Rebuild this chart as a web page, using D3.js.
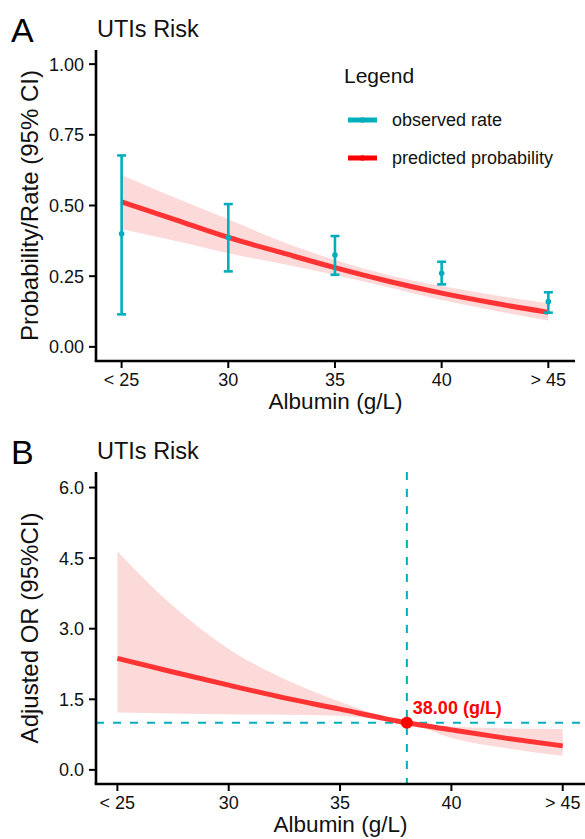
<!DOCTYPE html>
<html>
<head>
<meta charset="utf-8">
<script src="https://cdn.jsdelivr.net/npm/d3@7"></script>
<style>
  body { margin: 0; background: #fff; }
  text { font-family: "Liberation Sans", Arial, sans-serif; }
</style>
</head>
<body>
<div id="chart"></div>
<script>
// x axis (shared)
const albuminTicks = [25, 30, 35, 40, 45];
const albuminTickLabels = ["< 25", "30", "35", "40", "> 45"];

// panel A: observed rates with 95% CI
const obsAlbumin = [25, 30, 35, 40, 45];
const obsRate = [0.400, 0.387, 0.325, 0.260, 0.160];
const obsLower = [0.115, 0.267, 0.255, 0.221, 0.121];
const obsUpper = [0.677, 0.505, 0.392, 0.301, 0.193];

// panel A: predicted probability curve
const probAlbumin = [25, 27.5, 30, 32.5, 35, 37.5, 40, 42.5, 45];
const probFit = [0.513, 0.450, 0.387, 0.333, 0.280, 0.232, 0.190, 0.154, 0.122];
const probLower = [0.417, 0.375, 0.331, 0.294, 0.254, 0.211, 0.166, 0.128, 0.093];
const probUpper = [0.608, 0.527, 0.451, 0.373, 0.307, 0.254, 0.215, 0.183, 0.154];
const probTicks = [0, 0.25, 0.5, 0.75, 1];

// panel B: adjusted OR curve
const orAlbumin = [25, 27.5, 30, 32.5, 35, 37, 38, 40, 42.5, 45];
const orFit = [2.37, 2.08, 1.80, 1.53, 1.29, 1.09, 1.00, 0.85, 0.67, 0.51];
const orLower = [1.22, 1.20, 1.18, 1.17, 1.15, 1.06, 1.00, 0.68, 0.46, 0.30];
const orUpper = [4.64, 3.48, 2.57, 1.93, 1.45, 1.13, 1.00, 0.92, 0.88, 0.87];
const orTicks = [0, 1.5, 3, 4.5, 6];
const cutoffAlbumin = 38;
const cutoffOR = 1;

const width = 585, height = 839;
const teal = "#00AFBB";
const red = "#FF3333";
const ribbon = "#FDDADA";

const svg = d3.select("#chart").append("svg")
    .attr("width", width)
    .attr("height", height);

function drawAxes(g, x, y, yTicks, yFmt, opt) {
    const [x0, x1] = x.range();
    const [y0, y1] = y.range();
    // y axis
    g.append("line")
	.attr("x1", x0).attr("x2", x0).attr("y1", y0).attr("y2", y1)
	.attr("stroke", "#000").attr("stroke-width", 2.6);
    g.selectAll(".ytick").data(yTicks).enter().append("line")
	.attr("x1", x0 - 7).attr("x2", x0)
	.attr("y1", d => y(d)).attr("y2", d => y(d))
	.attr("stroke", "#000").attr("stroke-width", 2);
    g.selectAll(".ylab").data(yTicks).enter().append("text")
	.attr("x", x0 - 12).attr("y", d => y(d)).attr("dy", "0.36em")
	.attr("text-anchor", "end").style("font-size", "18px").attr("fill", "#111")
	.text(yFmt);
    // x axis
    g.append("line")
	.attr("x1", x0 - 1.3).attr("x2", x1).attr("y1", y0).attr("y2", y0)
	.attr("stroke", "#000").attr("stroke-width", 2.6);
    g.selectAll(".xtick").data(albuminTicks).enter().append("line")
	.attr("x1", d => x(d)).attr("x2", d => x(d))
	.attr("y1", y0).attr("y2", y0 + 7)
	.attr("stroke", "#000").attr("stroke-width", 2);
    g.selectAll(".xlab").data(albuminTicks).enter().append("text")
	.attr("x", d => x(d)).attr("y", y0 + 24.5)
	.attr("text-anchor", "middle").style("font-size", "18px").attr("fill", "#111")
	.text((d, i) => albuminTickLabels[i]);
    g.append("text")
	.attr("x", (x0 + x1) / 2).attr("y", y0 + opt.xTitleOffset)
	.attr("text-anchor", "middle").style("font-size", "22.5px").attr("fill", "#111")
	.text("Albumin (g/L)");
    g.append("text")
	.attr("transform", `translate(38, ${(y0 + y1) / 2}) rotate(-90)`)
	.attr("text-anchor", "middle").style("font-size", "24px").attr("fill", "#111")
	.text(opt.yTitle);
    g.append("text")
	.attr("x", 97).attr("y", y1 - 13)
	.style("font-size", "23.5px").attr("fill", "#111")
	.text("UTIs Risk");
    g.append("text")
	.attr("x", 11).attr("y", y1 - 8)
	.style("font-size", "34px").attr("fill", "#000")
	.text(opt.panel);
}

// ---------- panel A ----------
const xA = d3.scaleLinear().domain([23.8, 46.25]).range([96, 575]);
const yA = d3.scaleLinear().domain([-0.05, 1.05]).range([361, 50]);
const gA = svg.append("g");

const probData = probAlbumin.map((a, i) => ({ a, fit: probFit[i], lo: probLower[i], hi: probUpper[i] }));

gA.append("path")
    .datum(probData)
    .attr("fill", ribbon)
    .attr("d", d3.area().curve(d3.curveMonotoneX)
	  .x(d => xA(d.a)).y0(d => yA(d.lo)).y1(d => yA(d.hi)));

gA.append("path")
    .datum(probData)
    .attr("fill", "none").attr("stroke", red).attr("stroke-width", 5)
    .attr("d", d3.line().curve(d3.curveMonotoneX).x(d => xA(d.a)).y(d => yA(d.fit)));

const obs = gA.append("g").selectAll("g")
    .data(obsAlbumin.map((a, i) => ({ a, r: obsRate[i], lo: obsLower[i], hi: obsUpper[i] })))
    .enter().append("g");
obs.append("line")
    .attr("x1", d => xA(d.a)).attr("x2", d => xA(d.a))
    .attr("y1", d => yA(d.lo)).attr("y2", d => yA(d.hi))
    .attr("stroke", teal).attr("stroke-width", 2.6);
obs.selectAll(".cap").data(d => [[d.a, d.lo], [d.a, d.hi]]).enter().append("line")
    .attr("x1", d => xA(d[0]) - 4.5).attr("x2", d => xA(d[0]) + 4.5)
    .attr("y1", d => yA(d[1])).attr("y2", d => yA(d[1]))
    .attr("stroke", teal).attr("stroke-width", 2.6);
obs.append("circle")
    .attr("cx", d => xA(d.a)).attr("cy", d => yA(d.r)).attr("r", 2.8)
    .attr("fill", teal);

drawAxes(gA, xA, yA, probTicks, d => d.toFixed(2),
	 { yTitle: "Probability/Rate (95% CI)", xTitleOffset: 47.5, panel: "A" });

// legend
const legend = gA.append("g");
legend.append("text").attr("x", 344).attr("y", 83)
    .style("font-size", "21px").attr("fill", "#111").text("Legend");
const legendItems = [{ label: "observed rate", color: teal }, { label: "predicted probability", color: "#FF0000" }];
const li = legend.selectAll(".li").data(legendItems).enter().append("g")
    .attr("transform", (d, i) => `translate(0, ${120 + i * 38})`);
li.append("line").attr("x1", 348).attr("x2", 377).attr("y1", 0).attr("y2", 0)
    .attr("stroke", d => d.color).attr("stroke-width", 5);
li.append("circle").attr("cx", 362.5).attr("cy", 0).attr("r", 2.8).attr("fill", d => d.color);
li.append("text").attr("x", 392).attr("y", 0).attr("dy", "0.36em")
    .style("font-size", "18px").attr("fill", "#111").text(d => d.label);

// ---------- panel B ----------
const xB = d3.scaleLinear().domain([24.04, 46.0]).range([96, 585]);
const yB = d3.scaleLinear().domain([-0.30, 6.33]).range([784, 472]);
const gB = svg.append("g");

const orData = orAlbumin.map((a, i) => ({ a, fit: orFit[i], lo: orLower[i], hi: orUpper[i] }));

gB.append("path")
    .datum(orData)
    .attr("fill", ribbon)
    .attr("d", d3.area().curve(d3.curveMonotoneX)
	  .x(d => xB(d.a)).y0(d => yB(d.lo)).y1(d => yB(d.hi)));

// reference lines
gB.append("line")
    .attr("x1", 96).attr("x2", 585).attr("y1", yB(cutoffOR)).attr("y2", yB(cutoffOR))
    .attr("stroke", teal).attr("stroke-width", 2).attr("stroke-dasharray", "8 9");
gB.append("line")
    .attr("x1", xB(cutoffAlbumin)).attr("x2", xB(cutoffAlbumin)).attr("y1", 472).attr("y2", 784)
    .attr("stroke", teal).attr("stroke-width", 2).attr("stroke-dasharray", "8 9");

gB.append("path")
    .datum(orData)
    .attr("fill", "none").attr("stroke", red).attr("stroke-width", 5)
    .attr("d", d3.line().curve(d3.curveMonotoneX).x(d => xB(d.a)).y(d => yB(d.fit)));

gB.append("circle")
    .attr("cx", xB(cutoffAlbumin)).attr("cy", yB(cutoffOR)).attr("r", 6)
    .attr("fill", "#FF0000");
gB.append("text")
    .attr("x", xB(cutoffAlbumin) + 6).attr("y", yB(cutoffOR) - 9)
    .style("font-size", "18px").style("font-weight", "bold").attr("fill", "#FF0000")
    .text(`${cutoffAlbumin.toFixed(2)} (g/L)`);

drawAxes(gB, xB, yB, orTicks, d => d.toFixed(1),
	 { yTitle: "Adjusted OR (95%CI)", xTitleOffset: 48, panel: "B" });
</script>
</body>
</html>
